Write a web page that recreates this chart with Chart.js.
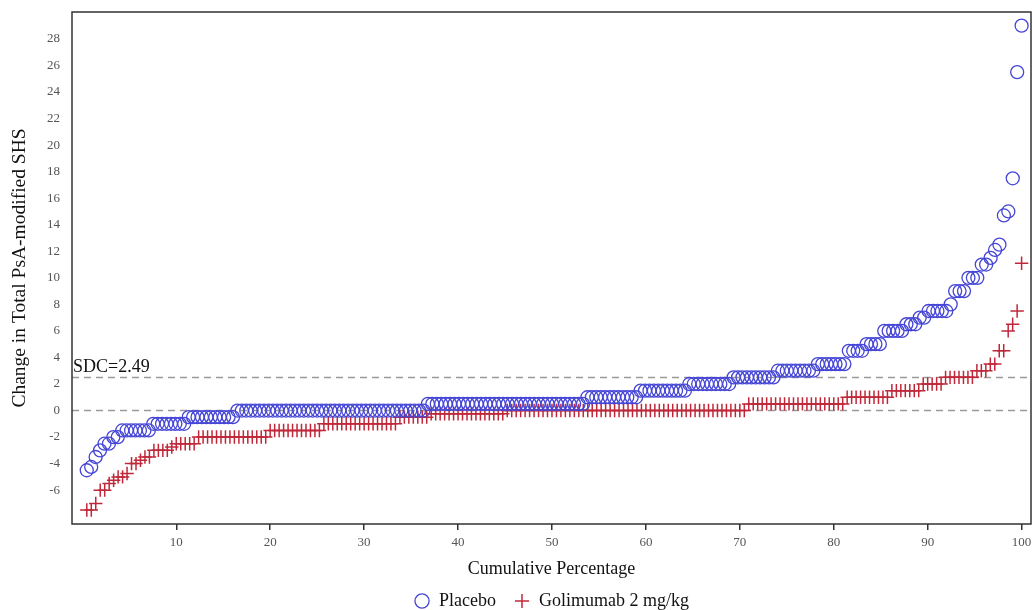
<!DOCTYPE html>
<html>
<head>
<meta charset="utf-8">
<script src="https://cdn.jsdelivr.net/npm/chart.js@4.4.1/dist/chart.umd.min.js"></script>
<style>
  html, body { margin: 0; padding: 0; background: #fff; }
</style>
</head>
<body>
<canvas id="cdfChart" width="1032" height="610"></canvas>
<script>
// change scores, as runs of equal values (value, number of patients)
const placeboValues = [-4.5, -4.25, -3.5, -3, -2.5, -2, -1.5, -1, -0.5, 0, 0.5, 1, 1.5, 2, 2.5, 3, 3.5,
  4.5, 5, 6, 6.5, 7, 7.5, 8, 9, 10, 11, 11.5, 12.1, 12.5, 14.7, 15, 17.5, 25.5, 29];
const placeboCounts = [1, 1, 1, 1, 2, 2, 7, 8, 11, 43, 36, 12, 11, 10, 10, 9, 7,
  4, 4, 5, 3, 2, 5, 1, 3, 3, 2, 1, 1, 1, 1, 1, 1, 1, 1];

const golimumabValues = [-7.5, -7, -6, -5.5, -5.25, -5, -4.75, -4, -3.75, -3.5, -3, -2.75, -2.5, -2,
  -1.5, -1, -0.5, -0.25, 0, 0.5, 1, 1.5, 2, 2.5, 3, 3.5, 4.5, 6, 6.5, 7.5, 11.1];
const golimumabCounts = [2, 1, 2, 1, 1, 2, 1, 2, 1, 2, 4, 1, 5, 16,
  12, 17, 7, 17, 54, 22, 10, 7, 5, 7, 3, 2, 2, 1, 1, 1, 1];

const xTicks = [10, 20, 30, 40, 50, 60, 70, 80, 90, 100];
const yTicks = [-6, -4, -2, 0, 2, 4, 6, 8, 10, 12, 14, 16, 18, 20, 22, 24, 26, 28];
const sdcValue = 2.49;
const refLines = [0, sdcValue];

const serif = 'Liberation Serif';

// expand runs into sorted patients; x is the cumulative percentage of the group
function cumulativePoints(values, counts) {
  const n = counts.reduce((a, b) => a + b, 0);
  const pts = [];
  let rank = 0;
  values.forEach((v, i) => {
    for (let k = 0; k < counts[i]; k++) {
      rank++;
      pts.push({ x: (rank / n) * 100, y: v });
    }
  });
  return pts;
}

// dashed reference lines, SDC label and the box round the plot
const refLinePlugin = {
  id: 'refLines',
  beforeDatasetsDraw(chart) {
    const { ctx, chartArea, scales } = chart;
    ctx.save();
    ctx.strokeStyle = '#9a9a9a';
    ctx.lineWidth = 1.5;
    ctx.setLineDash([7, 5]);
    refLines.forEach((v) => {
      const y = scales.y.getPixelForValue(v);
      ctx.beginPath();
      ctx.moveTo(chartArea.left, y);
      ctx.lineTo(chartArea.right, y);
      ctx.stroke();
    });
    ctx.setLineDash([]);
    ctx.fillStyle = '#111';
    ctx.font = `18px "${serif}"`;
    ctx.textBaseline = 'alphabetic';
    ctx.fillText('SDC=' + sdcValue, chartArea.left + 1, scales.y.getPixelForValue(sdcValue) - 5);
    ctx.restore();
  },
  afterDraw(chart) {
    const { ctx, chartArea } = chart;
    ctx.save();
    ctx.strokeStyle = '#333';
    ctx.lineWidth = 1.5;
    ctx.strokeRect(chartArea.left, chartArea.top, chartArea.right - chartArea.left, chartArea.bottom - chartArea.top);
    ctx.restore();
  },
};

new Chart(document.getElementById('cdfChart'), {
  type: 'scatter',
  data: {
    datasets: [
      {
        label: 'Placebo',
        data: cumulativePoints(placeboValues, placeboCounts),
        pointStyle: 'circle',
        pointRadius: 6.5,
        borderColor: '#4545d6',
        backgroundColor: 'rgba(0,0,0,0)',
        borderWidth: 1.3,
      },
      {
        label: 'Golimumab 2 mg/kg',
        data: cumulativePoints(golimumabValues, golimumabCounts),
        pointStyle: 'cross',
        pointRadius: 6.7,
        borderColor: '#c0283a',
        backgroundColor: '#c0283a',
        borderWidth: 1.5,
      },
    ],
  },
  options: {
    responsive: false,
    animation: false,
    layout: { autoPadding: false, padding: { top: 12, right: 1, bottom: -10, left: 0 } },
    plugins: {
      tooltip: { enabled: false },
      legend: {
        position: 'bottom',
        fullSize: false,
        labels: {
          usePointStyle: true,
          boxWidth: 16,
          boxHeight: 10,
          padding: 18,
          color: '#111',
          font: { family: serif, size: 18 },
        },
      },
    },
    scales: {
      x: {
        type: 'linear',
        min: -1.1,
        max: 101,
        afterBuildTicks: (axis) => { axis.ticks = xTicks.map((v) => ({ value: v })); },
        afterFit: (scale) => {
          scale.height = 50;
          scale.paddingLeft = 0;
          scale.paddingRight = 0;
        },
        grid: { drawOnChartArea: false, drawTicks: true, tickLength: 6, color: '#333', lineWidth: 1.5 },
        border: { display: false },
        ticks: { color: '#555', padding: 5, font: { family: serif, size: 13 } },
        title: {
          display: true,
          text: 'Cumulative Percentage',
          color: '#111',
          font: { family: serif, size: 18 },
          padding: { top: 0, bottom: -6 },
        },
      },
      y: {
        type: 'linear',
        min: -8.55,
        max: 30.03,
        afterBuildTicks: (axis) => { axis.ticks = yTicks.map((v) => ({ value: v })); },
        afterFit: (scale) => {
          scale.width = 72;
          scale.paddingTop = 0;
          scale.paddingBottom = 0;
        },
        grid: { display: false, drawTicks: false },
        border: { display: false },
        ticks: { color: '#555', padding: 12, font: { family: serif, size: 13 } },
        title: {
          display: true,
          text: 'Change in Total PsA-modified SHS',
          color: '#111',
          font: { family: serif, size: 19.5 },
          padding: { top: 8, bottom: 0 },
        },
      },
    },
  },
  plugins: [refLinePlugin],
});
</script>
</body>
</html>
